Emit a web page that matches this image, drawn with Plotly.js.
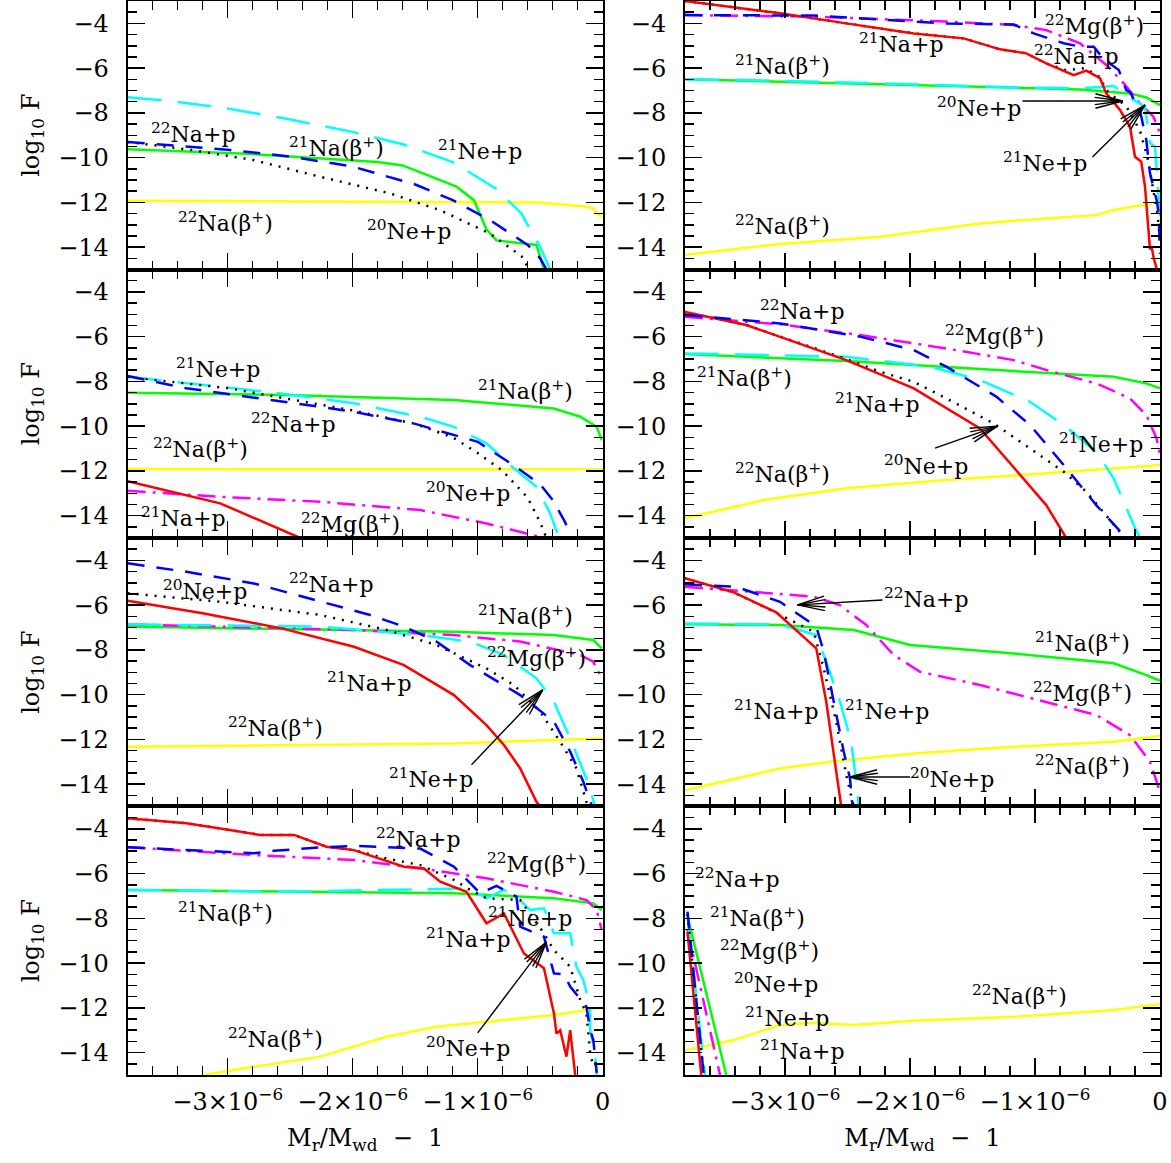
<!DOCTYPE html>
<html><head><meta charset="utf-8">
<script src="https://cdn.plot.ly/plotly-3.0.1.min.js"></script>
<style>body{margin:0;background:#fff}</style>
</head><body><div id="chart" style="width:1171px;height:1163px"></div>
<script>
// x values are in units of 1e-6 (M_r/M_wd - 1), y values are log10 F
// ---------- Panel 1 ----------
const p1_ne21_x = [-3.8,-3.5,-3.0,-2.5,-2.0,-1.6,-1.2,-0.85,-0.65,-0.5,-0.42];
const p1_ne21_y = [-7.3,-7.45,-7.8,-8.3,-8.85,-9.4,-10.2,-11.4,-12.5,-14.0,-15.0];
const p1_na22p_x = [-3.8,-3.0,-2.5,-2.0,-1.5,-1.2,-0.9,-0.6,-0.5,-0.45];
const p1_na22p_y = [-9.3,-9.65,-9.95,-10.4,-11.2,-11.9,-12.8,-13.9,-14.5,-15.0];
const p1_ne20_x = [-3.8,-3.3,-2.8,-2.3,-1.7,-1.3,-0.9,-0.65,-0.6];
const p1_ne20_y = [-9.3,-9.65,-10.1,-10.8,-11.6,-12.35,-13.4,-14.4,-14.9];
const p1_na21b_x = [-3.8,-2.8,-1.8,-1.6,-1.17,-1.03,-0.93,-0.85,-0.53,-0.47];
const p1_na21b_y = [-9.63,-9.84,-10.2,-10.35,-11.3,-11.9,-13.2,-13.7,-13.9,-15.0];
const p1_na22b_x = [-3.8,-2.0,-0.53,-0.155,-0.075,-0.048,0];
const p1_na22b_y = [-11.93,-11.97,-12.0,-12.17,-12.27,-12.5,-12.64];
// ---------- Panel 2 ----------
const p2_na21p_x = [-3.8,-3.44,-3.04,-2.51,-1.97,-1.57,-1.28,-1.07,-0.91,-0.69,-0.59,-0.48,-0.43,-0.32,-0.24,-0.2,-0.15,-0.12,-0.093,-0.08,-0.067,-0.05,-0.027];
const p2_na21p_y = [-3.0,-3.25,-3.55,-4.0,-4.45,-4.67,-5.16,-5.34,-5.79,-6.31,-6.11,-6.45,-7.13,-7.87,-8.62,-9.96,-10.18,-11.3,-13.38,-14.1,-13.98,-14.5,-14.95];
const p2_mg22b_x = [-3.8,-2.77,-1.71,-1.17,-0.91,-0.64,-0.43,-0.29,-0.16,-0.053,0];
const p2_mg22b_y = [-3.63,-3.70,-3.92,-4.07,-4.3,-4.89,-5.86,-6.68,-7.58,-8.17,-8.92];
const p2_na22p_x = [-3.8,-2.77,-1.71,-1.17,-1.01,-0.77,-0.64,-0.53,-0.45,-0.37,-0.33,-0.27,-0.24,-0.16,-0.11,-0.08,-0.05,-0.027,-0.01,0];
const p2_na22p_y = [-3.63,-3.65,-4.0,-4.05,-4.45,-4.89,-5.04,-5.04,-5.6,-5.94,-6.08,-6.98,-7.07,-7.9,-9.2,-10.7,-11.4,-11.9,-12.5,-14.3];
const p2_ne21_x = [-3.8,-3.31,-2.24,-1.17,-0.64,-0.37,-0.32,-0.21,-0.12,-0.08,-0.04,-0.016,0];
const p2_ne21_y = [-6.5,-6.53,-6.68,-6.86,-6.9,-6.8,-6.98,-7.43,-7.72,-9.35,-9.51,-11.15,-12.6];
const p2_na21b_x = [-3.8,-2.51,-1.17,-0.64,-0.24,-0.11,0];
const p2_na21b_y = [-6.5,-6.68,-6.9,-6.95,-7.13,-7.31,-7.65];
const p2_ne20_x = [-3.8,-3.44,-3.04,-2.51,-1.97,-1.57,-1.28,-1.07,-0.91,-0.75,-0.6,-0.48,-0.43,-0.27,-0.16,-0.1,-0.067,-0.04,-0.02,0];
const p2_ne20_y = [-3.0,-3.25,-3.55,-4.0,-4.45,-4.67,-5.16,-5.34,-5.79,-6.1,-6.0,-6.4,-7.0,-7.7,-8.8,-10.0,-11.0,-11.8,-12.5,-13.7];
const p2_na22b_x = [-3.8,-3.04,-2.24,-1.44,-0.91,-0.51,-0.37,0];
const p2_na22b_y = [-14.35,-13.86,-13.54,-12.94,-12.72,-12.57,-12.34,-11.97];
// ---------- Panel 3 ----------
const p3_ne21_x = [-3.8,-3.06,-2.53,-1.99,-1.46,-1.19,-0.93,-0.71,-0.53,-0.42,-0.35];
const p3_ne21_y = [-7.79,-8.24,-8.57,-8.98,-9.58,-10.03,-10.77,-11.89,-12.71,-13.9,-15.0];
const p3_na22p_x = [-3.8,-3.33,-2.5,-2.0,-1.5,-1.0,-0.7,-0.5,-0.4,-0.3,-0.25];
const p3_na22p_y = [-7.76,-8.31,-8.95,-9.35,-9.9,-10.7,-11.8,-12.6,-13.3,-14.3,-15.0];
const p3_ne20_x = [-3.8,-3.0,-2.5,-2.0,-1.5,-1.2,-1.0,-0.8,-0.6,-0.5,-0.45];
const p3_ne20_y = [-7.8,-8.3,-8.8,-9.3,-9.9,-10.5,-11.2,-12.0,-13.2,-14.3,-15.0];
const p3_na21b_x = [-3.8,-2.53,-1.19,-0.39,-0.18,-0.048,-0.008];
const p3_na21b_y = [-8.51,-8.61,-8.83,-9.21,-9.58,-10.03,-10.62];
const p3_na22b_x = [-3.8,-2.0,0];
const p3_na22b_y = [-11.92,-11.93,-11.93];
const p3_na21p_x = [-3.8,-3.06,-2.42];
const p3_na21p_y = [-12.46,-13.45,-15.0];
const p3_mg22b_x = [-3.8,-3.06,-2.26,-1.46,-0.93,-0.5];
const p3_mg22b_y = [-12.89,-13.16,-13.38,-13.75,-14.35,-14.95];
// ---------- Panel 4 ----------
const p4_na21p_x = [-3.8,-3.31,-2.51,-1.97,-1.44,-1.07,-0.91,-0.75];
const p4_na21p_y = [-4.9,-5.48,-7.05,-8.31,-10.1,-12.49,-13.53,-15.0];
const p4_na22p_x = [-3.8,-3.04,-2.4,-1.97,-1.71,-1.31,-1.04,-0.77,-0.51,-0.27];
const p4_na22p_y = [-5.03,-5.41,-6.0,-6.6,-7.34,-8.68,-9.95,-11.74,-13.53,-15.0];
const p4_mg22b_x = [-3.8,-3.04,-2.4,-1.71,-1.17,-0.91,-0.51,-0.24,-0.11,-0.027,0];
const p4_mg22b_y = [-5.11,-5.45,-5.93,-6.53,-7.05,-7.49,-8.09,-8.76,-9.5,-10.55,-11.3];
const p4_ne20_x = [-3.8,-3.31,-2.51,-2.24,-1.97,-1.71,-1.33,-1.04,-0.77,-0.59,-0.37,-0.28];
const p4_ne20_y = [-4.9,-5.48,-7.0,-7.57,-8.02,-8.76,-9.88,-11.0,-12.04,-12.93,-14.42,-15.0];
const p4_ne21_x = [-3.8,-2.51,-1.84,-1.44,-1.04,-0.77,-0.51,-0.37,-0.21,-0.16];
const p4_ne21_y = [-6.75,-6.9,-7.34,-7.94,-8.91,-9.95,-11.15,-12.34,-14.42,-15.0];
const p4_na21b_x = [-3.8,-2.51,-1.17,-0.37,-0.11,0];
const p4_na21b_y = [-6.78,-7.09,-7.54,-7.79,-8.09,-8.31];
const p4_na22b_x = [-3.8,-3.17,-2.51,-1.71,-0.91,0];
const p4_na22b_y = [-14.12,-13.3,-12.78,-12.41,-12.11,-11.74];
// ---------- Panel 5 ----------
const p5_na22p_x = [-3.8,-3.33,-2.79,-2.26,-1.86,-1.59,-1.33,-1.06,-0.66,-0.39,-0.26,-0.155,-0.1,-0.08];
const p5_na22p_y = [-4.13,-4.51,-5.03,-5.85,-6.44,-6.96,-7.63,-8.68,-10.02,-11.21,-12.55,-13.89,-14.79,-15.0];
const p5_ne20_x = [-3.8,-3.06,-2.26,-1.73,-1.33,-0.93,-0.71,-0.5,-0.34,-0.21,-0.13,-0.11];
const p5_ne20_y = [-5.47,-5.85,-6.44,-7.11,-7.78,-8.83,-9.57,-10.76,-12.11,-13.3,-14.79,-15.0];
const p5_na21p_x = [-3.8,-3.19,-2.57,-1.99,-1.59,-1.19,-0.93,-0.79,-0.66,-0.53,-0.5];
const p5_na21p_y = [-5.8,-6.37,-7.04,-7.86,-8.68,-10.02,-11.36,-12.25,-13.3,-14.79,-15.0];
const p5_ne21_x = [-3.8,-2.26,-1.46,-1.06,-0.79,-0.53,-0.39,-0.26,-0.13,-0.075,-0.06];
const p5_ne21_y = [-6.86,-6.96,-7.34,-7.63,-8.23,-9.27,-10.32,-11.96,-13.75,-14.79,-15.0];
const p5_mg22b_x = [-3.8,-1.99,-1.19,-0.66,-0.18,-0.075,-0.021,0];
const p5_mg22b_y = [-6.86,-7.11,-7.34,-7.63,-8.23,-8.53,-9.13,-9.3];
const p5_na21b_x = [-3.8,-2.26,-1.19,-0.39,-0.075,-0.008];
const p5_na21b_y = [-6.96,-7.08,-7.19,-7.34,-7.56,-7.93];
const p5_na22b_x = [-3.8,-2.53,-1.19,-0.39,0];
const p5_na22b_y = [-12.33,-12.25,-12.18,-12.03,-11.96];
// ---------- Panel 6 ----------
const p6_na21p_x = [-3.8,-3.41,-3.07,-2.75,-2.67,-2.61,-2.55];
const p6_na21p_y = [-4.8,-5.43,-6.32,-7.93,-10.32,-12.55,-15.0];
const p6_na22p_x = [-3.8,-3.39,-3.04,-2.75,-2.69,-2.61,-2.53,-2.48,-2.46];
const p6_na22p_y = [-5.07,-5.18,-5.85,-6.96,-8.08,-10.32,-12.55,-13.75,-15.0];
const p6_ne20_x = [-3.8,-3.41,-3.07,-2.77,-2.69,-2.59,-2.51,-2.45];
const p6_ne20_y = [-4.8,-5.43,-6.35,-7.19,-8.83,-11.21,-13.6,-15.0];
const p6_ne21_x = [-3.8,-3.04,-2.75,-2.67,-2.56,-2.47,-2.45,-2.41];
const p6_ne21_y = [-6.82,-6.86,-7.34,-8.53,-10.32,-12.11,-13.0,-15.0];
const p6_mg22b_x = [-3.8,-2.77,-2.56,-2.35,-2.13,-1.92,-1.44,-0.91,-0.51,-0.24,-0.08,0];
const p6_mg22b_y = [-5.18,-5.62,-6.0,-6.89,-8.23,-8.98,-9.57,-10.32,-10.91,-11.81,-13.0,-14.34];
const p6_na21b_x = [-3.8,-3.04,-2.45,-2.0,-1.17,-0.37,-0.11,0];
const p6_na21b_y = [-6.85,-6.89,-7.11,-7.78,-8.16,-8.6,-9.13,-9.38];
const p6_na22b_x = [-3.8,-3.04,-2.64,-1.97,-1.17,-0.37,0];
const p6_na22b_y = [-14.27,-13.3,-13.0,-12.63,-12.33,-12.11,-11.84];
// ---------- Panel 7 ----------
const p7_na21p_x = [-3.8,-3.33,-3.06,-2.74,-2.47,-2.21,-1.99,-1.59,-1.43,-1.3,-1.09,-0.93,-0.79,-0.63,-0.47,-0.39,-0.37,-0.34,-0.29,-0.26,-0.22];
const p7_na21p_y = [-3.53,-3.75,-3.98,-4.27,-4.27,-4.8,-4.95,-5.69,-5.77,-6.36,-6.81,-8.22,-7.78,-9.57,-10.23,-12.25,-13.15,-13.0,-14.18,-13.0,-15.0];
const p7_na22p_x = [-3.8,-2.79,-2.63,-2.26,-1.99,-1.73,-1.46,-1.19,-0.98,-0.85,-0.69,-0.66,-0.47,-0.39,-0.31,-0.26,-0.13,-0.1,-0.075,-0.048];
const p7_na22p_y = [-4.82,-5.09,-4.98,-4.83,-4.76,-4.83,-4.88,-5.69,-6.88,-6.55,-7.03,-8.37,-8.82,-10.46,-10.5,-11.05,-11.95,-13.0,-13.44,-14.9];
const p7_mg22b_x = [-3.8,-2.79,-1.99,-1.46,-0.93,-0.39,-0.13,-0.048,-0.008];
const p7_mg22b_y = [-4.82,-5.17,-5.39,-5.76,-6.21,-6.81,-7.18,-7.63,-8.52];
const p7_ne20_x = [-3.8,-3.33,-3.06,-2.74,-2.47,-2.21,-1.99,-1.73,-1.46,-1.19,-1.06,-0.93,-0.66,-0.47,-0.39,-0.26,-0.18,-0.13,-0.1,-0.075];
const p7_ne20_y = [-3.53,-3.75,-3.98,-4.27,-4.27,-4.8,-4.95,-5.32,-5.62,-6.28,-6.73,-7.1,-7.18,-8.67,-9.42,-10.16,-11.65,-12.25,-14.03,-14.6];
const p7_ne21_x = [-3.8,-2.53,-1.06,-0.93,-0.79,-0.69,-0.58,-0.47,-0.39,-0.26,-0.21,-0.155,-0.1,-0.1,-0.061,-0.048];
const p7_ne21_y = [-6.73,-6.81,-6.66,-7.1,-6.73,-7.03,-7.63,-7.55,-8.67,-8.67,-10.16,-10.76,-11.95,-13.0,-14.03,-15.0];
const p7_na21b_x = [-3.8,-2.26,-1.19,-0.39,-0.075,-0.008];
const p7_na21b_y = [-6.73,-6.81,-6.88,-7.1,-7.33,-7.63];
const p7_na22b_x = [-3.19,-2.79,-2.26,-1.73,-1.33,-0.93,-0.39,0];
const p7_na22b_y = [-15.0,-14.63,-14.18,-13.29,-12.84,-12.62,-12.32,-11.98];
// ---------- Panel 8 ----------
const p8_na22p_x = [-3.78,-3.65];
const p8_na22p_y = [-7.7,-15.0];
const p8_na21p_x = [-3.78,-3.67];
const p8_na21p_y = [-8.6,-15.0];
const p8_ne21_x = [-3.78,-3.64];
const p8_ne21_y = [-7.9,-15.0];
const p8_ne20_x = [-3.78,-3.65];
const p8_ne20_y = [-7.8,-15.0];
const p8_mg22b_x = [-3.78,-3.52];
const p8_mg22b_y = [-8.5,-15.0];
const p8_na21b_x = [-3.78,-3.47];
const p8_na21b_y = [-7.9,-15.0];
const p8_na22b_x = [-3.8,-3.41,-3.04,-2.77,-2.45,-1.97,-1.17,-0.37,0];
const p8_na22b_y = [-13.9,-13.44,-12.77,-12.67,-12.77,-12.58,-12.4,-12.1,-11.83];

// tick labels
const xTickVals = [-3, -2, -1, 0];
const xTickText = ['\u22123\u00d710<sup>\u22126</sup>', '\u22122\u00d710<sup>\u22126</sup>', '\u22121\u00d710<sup>\u22126</sup>', '0'];

// series labels
const NAMES = {
  ne20: '<sup>20</sup>Ne+p', ne21: '<sup>21</sup>Ne+p', na22p: '<sup>22</sup>Na+p',
  na21p: '<sup>21</sup>Na+p', na21b: '<sup>21</sup>Na(\u03b2<sup>+</sup>)',
  na22b: '<sup>22</sup>Na(\u03b2<sup>+</sup>)', mg22b: '<sup>22</sup>Mg(\u03b2<sup>+</sup>)'
};

const SERIES = {
  1: {ne21:[p1_ne21_x,p1_ne21_y], na22p:[p1_na22p_x,p1_na22p_y], ne20:[p1_ne20_x,p1_ne20_y], na21b:[p1_na21b_x,p1_na21b_y], na22b:[p1_na22b_x,p1_na22b_y]},
  2: {na21p:[p2_na21p_x,p2_na21p_y], mg22b:[p2_mg22b_x,p2_mg22b_y], na22p:[p2_na22p_x,p2_na22p_y], ne21:[p2_ne21_x,p2_ne21_y], na21b:[p2_na21b_x,p2_na21b_y], ne20:[p2_ne20_x,p2_ne20_y], na22b:[p2_na22b_x,p2_na22b_y]},
  3: {ne21:[p3_ne21_x,p3_ne21_y], na22p:[p3_na22p_x,p3_na22p_y], ne20:[p3_ne20_x,p3_ne20_y], na21b:[p3_na21b_x,p3_na21b_y], na22b:[p3_na22b_x,p3_na22b_y], na21p:[p3_na21p_x,p3_na21p_y], mg22b:[p3_mg22b_x,p3_mg22b_y]},
  4: {na21p:[p4_na21p_x,p4_na21p_y], na22p:[p4_na22p_x,p4_na22p_y], mg22b:[p4_mg22b_x,p4_mg22b_y], ne20:[p4_ne20_x,p4_ne20_y], ne21:[p4_ne21_x,p4_ne21_y], na21b:[p4_na21b_x,p4_na21b_y], na22b:[p4_na22b_x,p4_na22b_y]},
  5: {na22p:[p5_na22p_x,p5_na22p_y], ne20:[p5_ne20_x,p5_ne20_y], na21p:[p5_na21p_x,p5_na21p_y], ne21:[p5_ne21_x,p5_ne21_y], mg22b:[p5_mg22b_x,p5_mg22b_y], na21b:[p5_na21b_x,p5_na21b_y], na22b:[p5_na22b_x,p5_na22b_y]},
  6: {na21p:[p6_na21p_x,p6_na21p_y], na22p:[p6_na22p_x,p6_na22p_y], ne20:[p6_ne20_x,p6_ne20_y], ne21:[p6_ne21_x,p6_ne21_y], mg22b:[p6_mg22b_x,p6_mg22b_y], na21b:[p6_na21b_x,p6_na21b_y], na22b:[p6_na22b_x,p6_na22b_y]},
  7: {na21p:[p7_na21p_x,p7_na21p_y], na22p:[p7_na22p_x,p7_na22p_y], mg22b:[p7_mg22b_x,p7_mg22b_y], ne20:[p7_ne20_x,p7_ne20_y], ne21:[p7_ne21_x,p7_ne21_y], na21b:[p7_na21b_x,p7_na21b_y], na22b:[p7_na22b_x,p7_na22b_y]},
  8: {na22p:[p8_na22p_x,p8_na22p_y], na21p:[p8_na21p_x,p8_na21p_y], ne21:[p8_ne21_x,p8_ne21_y], ne20:[p8_ne20_x,p8_ne20_y], mg22b:[p8_mg22b_x,p8_mg22b_y], na21b:[p8_na21b_x,p8_na21b_y], na22b:[p8_na22b_x,p8_na22b_y]}
};

// label placements (x in 1e-6 units)
const LABELS = {
  1: [['na22p',-3.28,-8.90],['na21b',-2.13,-9.53],['ne21',-0.98,-9.66],['na22b',-3.02,-12.88],['ne20',-1.55,-13.23]],
  2: [['mg22b',-0.52,-4.07],['na21p',-2.07,-4.88],['na22p',-0.67,-5.41],['na21b',-3.02,-5.86],['ne20',-1.45,-7.74],['ne21',-0.92,-10.2],['na22b',-3.02,-13.01]],
  3: [['ne21',-3.08,-7.40],['na21b',-0.62,-8.39],['na22p',-2.48,-9.86],['na22b',-3.22,-10.98],['ne20',-1.08,-12.94],['na21p',-3.36,-14.06],['mg22b',-2.02,-14.33]],
  4: [['na22p',-2.86,-4.81],['mg22b',-1.32,-5.93],['na21b',-3.32,-7.80],['na21p',-2.26,-8.97],['ne21',-0.47,-10.75],['ne20',-1.87,-11.74],['na22b',-3.02,-12.09]],
  5: [['ne20',-3.18,-5.32],['na22p',-2.17,-5.01],['na21b',-0.62,-6.44],['mg22b',-0.53,-8.32],['na21p',-1.87,-9.44],['na22b',-2.62,-11.45],['ne21',-1.37,-13.73]],
  6: [['na22p',-1.87,-5.68],['na21b',-0.62,-7.65],['mg22b',-0.62,-9.88],['na21p',-3.07,-10.69],['ne21',-2.18,-10.69],['na22b',-0.62,-13.15],['ne20',-1.66,-13.73]],
  7: [['na22p',-1.48,-4.41],['mg22b',-0.53,-5.52],['na21b',-3.02,-7.72],['ne21',-0.58,-7.94],['na21p',-1.08,-8.88],['na22b',-2.62,-13.35],['ne20',-1.08,-13.75]],
  8: [['na22p',-3.38,-6.2],['na21b',-3.22,-7.94],['mg22b',-3.12,-9.41],['ne20',-3.07,-10.89],['ne21',-2.98,-12.41],['na21p',-2.86,-13.88],['na22b',-1.12,-11.42]]
};
// arrows: [panel, tailX, tailY, headX, headY]
const ARROWS = [
  [2,-1.10,-7.47,-0.30,-7.47],[2,-0.54,-9.97,-0.12,-7.65],
  [4,-1.80,-10.98,-1.30,-10.0],
  [5,-1.05,-13.14,-0.48,-9.79],
  [6,-2.22,-5.77,-2.90,-5.99],[6,-2.0,-13.68,-2.48,-13.68],
  [7,-1.0,-13.12,-0.45,-9.06]
];

const STYLE = {
  na22b: {color:'#ffff00', dash:'solid'},
  na21b: {color:'#00ff00', dash:'solid'},
  mg22b: {color:'#ff00ff', dash:'18px,7px,3px,7px'},
  ne21:  {color:'#00ffff', dash:'34px,16px'},
  na21p: {color:'#ff0000', dash:'solid'},
  na22p: {color:'#0000ff', dash:'17px,12px'},
  ne20:  {color:'#000000', dash:'2px,7px'}
};
const ORDER = ['na22b','na21b','mg22b','ne21','ne20','na21p','na22p'];

const U = 1e-6;
const FONT = 'DejaVu Serif, serif';
const rowsY = [[0.76827,0.99914],[0.53740,0.76827],[0.30654,0.53740],[0.07567,0.30654]];
const colsX = [[0.10905,0.51469],[0.58497,0.99061]];
const W = 1171, H = 1163;
const XRANGE = [-3.8, 0], YRANGE = [-15, -3];

const traces = [];
const annotations = [];
const shapes = [];
const layout = {
  width:W, height:H, autosize:false,
  margin:{l:0,r:0,t:0,b:0},
  paper_bgcolor:'#ffffff', plot_bgcolor:'#ffffff',
  showlegend:false,
  font:{family:FONT, size:22, color:'#000'}
};

for (let p = 1; p <= 8; p++) {
  const row = Math.floor((p-1)/2), col = (p-1)%2;
  const sfx = p === 1 ? '' : String(p);
  const xa = 'x'+sfx, ya = 'y'+sfx;
  const bottom = row === 3;
  layout['xaxis'+sfx] = {
    domain: colsX[col], anchor: ya, range:[XRANGE[0]*U, XRANGE[1]*U], fixedrange:true,
    showline:true, linecolor:'#000', linewidth:2, mirror:'allticks',
    ticks:'inside', ticklen:17, tickwidth:1.5, tickcolor:'#000',
    tickmode:'array', tickvals: xTickVals.map(v=>v*U), ticktext: xTickText,
    showticklabels: bottom, tickfont:{family:FONT, size:24, color:'#000'},
    ticklabelstandoff: 4,
    minor:{ticks:'inside', ticklen:9, tickwidth:1.5, tickcolor:'#000', dtick:0.2*U, tick0:0, showgrid:false},
    showgrid:false, zeroline:false,
    title: bottom ? {text:'M<sub>r</sub>/M<sub>wd</sub>  \u2212  1', font:{family:FONT, size:24, color:'#000'}, standoff:14} : {text:''}
  };
  layout['yaxis'+sfx] = {
    domain: rowsY[row], anchor: xa, range:YRANGE, fixedrange:true,
    showline:true, linecolor:'#000', linewidth:2, mirror:'allticks',
    ticks:'inside', ticklen:17, tickwidth:1.5, tickcolor:'#000',
    tickmode:'linear', tick0:-4, dtick:2,
    tickfont:{family:FONT, size:24, color:'#000'},
    ticklabelstandoff: 12,
    minor:{ticks:'inside', ticklen:9, tickwidth:1.5, tickcolor:'#000', dtick:0.5, tick0:0, showgrid:false},
    showgrid:false, zeroline:false,
    title: col === 0 ? {text:'log<sub>10</sub> F', font:{family:FONT, size:24, color:'#000'}, standoff:12} : {text:''}
  };
  const ser = SERIES[p];
  ORDER.forEach(k => {
    if (!ser[k]) return;
    traces.push({
      type:'scatter', mode:'lines', xaxis:xa, yaxis:ya,
      x: ser[k][0].map(v=>v*U), y: ser[k][1],
      line:{color:STYLE[k].color, dash:STYLE[k].dash, width:2.5},
      hoverinfo:'skip', name: NAMES[k]
    });
  });
  LABELS[p].forEach(([k, x, y]) => {
    annotations.push({xref:xa, yref:ya, x:x*U, y:y, text:NAMES[k], showarrow:false,
      xanchor:'center', yanchor:'middle', font:{family:FONT, size:22, color:'#000'}});
  });
}

// pointer arrows: thin shaft plus an open "V" head, built in pixel space from the axis scales
ARROWS.forEach(([p, tx, ty, hx, hy]) => {
  const row = Math.floor((p-1)/2), col = (p-1)%2;
  const sfx = p === 1 ? '' : String(p);
  const pxPerX = (colsX[col][1]-colsX[col][0])*W/(XRANGE[1]-XRANGE[0]);
  const pxPerY = (rowsY[row][1]-rowsY[row][0])*H/(YRANGE[1]-YRANGE[0]);
  const dx = (hx-tx)*pxPerX, dy = -(hy-ty)*pxPerY;
  const th = Math.atan2(dy, dx);
  const L = 28, phi = 15*Math.PI/180;
  const base = {type:'line', xref:'x'+sfx, yref:'y'+sfx, line:{color:'#000', width:1.4}, layer:'above'};
  shapes.push(Object.assign({}, base, {x0:tx*U, y0:ty, x1:hx*U, y1:hy}));
  [phi, -phi, phi*0.5, -phi*0.5].forEach(a => {
    const wx = hx - L*Math.cos(th+a)/pxPerX;
    const wy = hy + L*Math.sin(th+a)/pxPerY;
    shapes.push(Object.assign({}, base, {x0:wx*U, y0:wy, x1:hx*U, y1:hy}));
  });
});
layout.annotations = annotations;
layout.shapes = shapes;

Plotly.newPlot('chart', traces, layout, {displayModeBar:false, staticPlot:true});
</script></body></html>
